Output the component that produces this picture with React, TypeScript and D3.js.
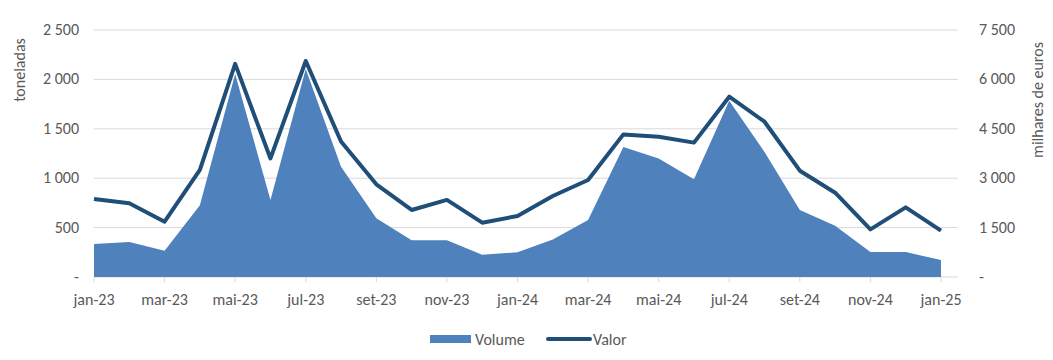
import React from "react";
import * as d3 from "d3";

const months = ["jan-23","fev-23","mar-23","abr-23","mai-23","jun-23","jul-23","ago-23","set-23","out-23","nov-23","dez-23","jan-24","fev-24","mar-24","abr-24","mai-24","jun-24","jul-24","ago-24","set-24","out-24","nov-24","dez-24","jan-25"];
const volume = [335,355,265,725,2055,780,2105,1115,595,372,372,225,250,380,578,1315,1200,990,1785,1265,678,518,252,252,172];
const valor = [2370,2240,1680,3250,6470,3600,6560,4115,2815,2035,2340,1650,1852,2460,2945,4330,4260,4080,5475,4715,3228,2560,1447,2115,1406];
const leftTicks = [0,500,1000,1500,2000,2500];
const rightTicks = [0,1500,3000,4500,6000,7500];

const fmt = (v: number) => (v === 0 ? "-" : d3.format(",")(v).replace(/,/g, " "));

export default function App() {
  const W = 1053, H = 360;
  const x0 = 94, x1 = 941, gridRight = 958;
  const yTop = 30, yBase = 277;
  const x = d3.scalePoint<string>().domain(months).range([x0, x1]);
  const yL = d3.scaleLinear().domain([0, 2500]).range([yBase, yTop]);
  const yR = d3.scaleLinear().domain([0, 7500]).range([yBase, yTop]);
  const area = d3.area<number>().x((_, i) => x(months[i])!).y0(yBase).y1((d) => yL(d));
  const line = d3.line<number>().x((_, i) => x(months[i])!).y((d) => yR(d));
  const font = "Carlito, Calibri, Lato, sans-serif";
  const txt = "#595959";
  const fs = 16;
  return (
    <svg width={W} height={H} style={{ position: "absolute", left: 0, top: 0 }} fontFamily={font}>
      <rect width={W} height={H} fill="#fff" />
      {leftTicks.map((t) => (
        <line key={t} x1={x0} x2={gridRight} y1={yL(t)} y2={yL(t)} stroke="#d9d9d9" strokeWidth={1} />
      ))}
      <path d={area(volume)!} fill="#4f81bd" />
      <path d={line(valor)!} fill="none" stroke="#1f4e79" strokeWidth={4} strokeLinejoin="round" />
      {months.map((m, i) =>
        i % 2 === 0 ? (
          <g key={m}>
            <line x1={x(m)} x2={x(m)} y1={yBase} y2={yBase + 5} stroke="#d9d9d9" />
            <text x={x(m)} y={305} textAnchor="middle" fontSize={fs} fill={txt}>{m}</text>
          </g>
        ) : null
      )}
      {leftTicks.map((t) => (
        <text key={t} x={79} y={yL(t) + 5} textAnchor="end" fontSize={fs} fill={txt}>{fmt(t)}</text>
      ))}
      {rightTicks.map((t) => (
        <text key={t} x={979} y={yR(t) + 5} textAnchor="start" fontSize={fs} fill={txt}>{fmt(t)}</text>
      ))}
      <text transform="translate(25,70) rotate(-90)" textAnchor="middle" fontSize={fs} fill={txt}>toneladas</text>
      <text transform="translate(1043,100) rotate(-90)" textAnchor="middle" fontSize={fs} fill={txt}>milhares de euros</text>
      <rect x={430} y={335} width={41} height={8} fill="#4f81bd" />
      <text x={475} y={345} fontSize={fs} fill={txt}>Volume</text>
      <line x1={548} x2={590} y1={339} y2={339} stroke="#1f4e79" strokeWidth={4} strokeLinecap="round" />
      <text x={593} y={345} fontSize={fs} fill={txt}>Valor</text>
    </svg>
  );
}
